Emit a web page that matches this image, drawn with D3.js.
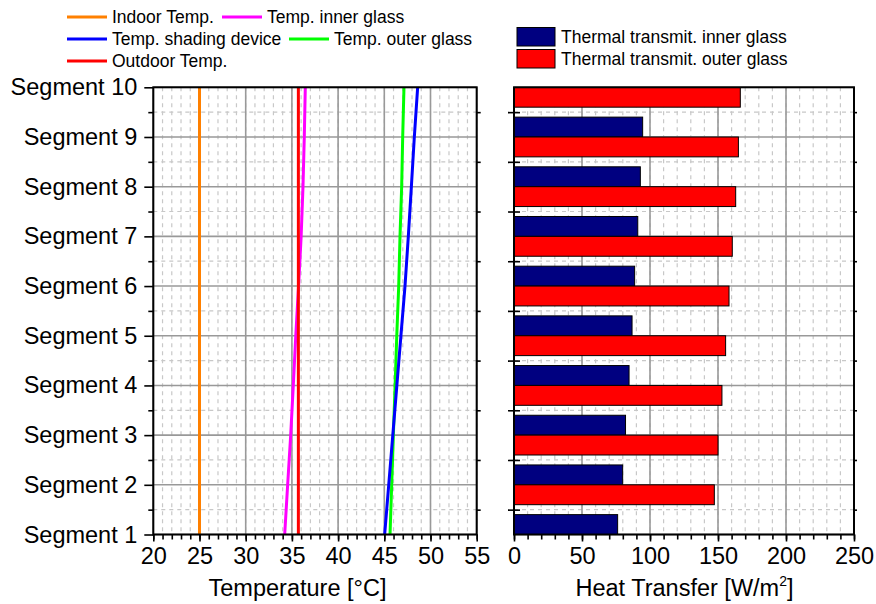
<!DOCTYPE html>
<html>
<head>
<meta charset="utf-8">
<script src="https://cdn.jsdelivr.net/npm/d3@7"></script>
<style>
body{margin:0;background:#fff}
svg{display:block;font-family:"Liberation Sans",Arial,sans-serif}
</style>
</head>
<body>
<script>
// data, segment 1 .. 10
const segments = [1,2,3,4,5,6,7,8,9,10];
const indoorTemp = [25,25,25,25,25,25,25,25,25,25];
const innerGlassTemp = [34.22,34.54,34.87,35.15,35.42,35.72,36.0,36.2,36.34,36.45];
const shadingTemp = [45.04,45.48,45.92,46.36,46.8,47.24,47.6,47.93,48.25,48.61];
const outerGlassTemp = [45.62,45.8,45.98,46.17,46.35,46.56,46.7,46.88,46.99,47.13];
const outdoorTemp = [35.7,35.7,35.7,35.7,35.7,35.7,35.7,35.7,35.7,35.7];
const transInner = [76.2,79.9,82.0,84.6,86.8,88.7,91.0,92.9,94.6,96.2];
const transOuter = [144.3,147.3,150.0,152.9,155.6,158.1,160.5,163.0,165.0,166.4];
const tempTicks = [20,25,30,35,40,45,50,55];
const heatTicks = [0,50,100,150,200,250];

const width = 876, height = 604;
const plotTop = 87.3, plotBottom = 534.5;
const svg = d3.select("body").append("svg").attr("width",width).attr("height",height);

const y = d3.scaleLinear().domain([1,10]).range([plotBottom,plotTop]);
const xT = d3.scaleLinear().domain([20,55]).range([153.3,476.7]);
const xH = d3.scaleLinear().domain([0,250]).range([514,854]);

const halves = d3.range(1.5,10,1);

function grid(x, minorX, majorX){
  const g = svg.append("g");
  const [x0,x1] = x.range();
  g.selectAll(".vmin").data(minorX).enter().append("line")
    .attr("x1",d=>x(d)).attr("x2",d=>x(d)).attr("y1",plotTop).attr("y2",plotBottom)
    .attr("stroke","#c8c8c8").attr("stroke-width",1.2).attr("stroke-dasharray","4,4");
  g.selectAll(".hmin").data(halves).enter().append("line")
    .attr("x1",x0).attr("x2",x1).attr("y1",d=>y(d)).attr("y2",d=>y(d))
    .attr("stroke","#c8c8c8").attr("stroke-width",1.2).attr("stroke-dasharray","4,4");
  g.selectAll(".vmaj").data(majorX).enter().append("line")
    .attr("x1",d=>x(d)).attr("x2",d=>x(d)).attr("y1",plotTop).attr("y2",plotBottom)
    .attr("stroke","#999").attr("stroke-width",1.6);
  g.selectAll(".hmaj").data(segments).enter().append("line")
    .attr("x1",x0).attr("x2",x1).attr("y1",d=>y(d)).attr("y2",d=>y(d))
    .attr("stroke","#999").attr("stroke-width",1.6);
}

grid(xT, d3.range(20,56,1), tempTicks);
grid(xH, d3.range(0,251,10), heatTicks);

// temperature lines
const lineGen = d3.line().x(d=>xT(d[1])).y(d=>y(d[0]));
const series = [
  {vals:indoorTemp, color:"#ff8000"},
  {vals:innerGlassTemp, color:"#ff00ff"},
  {vals:outerGlassTemp, color:"#00ff00"},
  {vals:shadingTemp, color:"#0000ff"},
  {vals:outdoorTemp, color:"#ff0000"}
];
svg.append("g").selectAll("path").data(series).enter().append("path")
  .attr("d",s=>lineGen(segments.map((seg,i)=>[seg,s.vals[i]])))
  .attr("fill","none").attr("stroke",s=>s.color).attr("stroke-width",3);

// bars
svg.append("clipPath").attr("id","clipR").append("rect")
  .attr("x",xH(0)).attr("y",plotTop).attr("width",xH(250)-xH(0)).attr("height",plotBottom-plotTop);
const bars = svg.append("g").attr("clip-path","url(#clipR)");
const bh = y(1) - y(1.4);
bars.selectAll(".bi").data(segments).enter().append("rect")
  .attr("x",xH(0)).attr("y",d=>y(d)-bh)
  .attr("width",(d,i)=>xH(transInner[i])-xH(0)).attr("height",bh)
  .attr("fill","#000080").attr("stroke","#000").attr("stroke-width",1);
bars.selectAll(".bo").data(segments).enter().append("rect")
  .attr("x",xH(0)).attr("y",d=>y(d))
  .attr("width",(d,i)=>xH(transOuter[i])-xH(0)).attr("height",bh)
  .attr("fill","#ff0000").attr("stroke","#000").attr("stroke-width",1);

// frames
[xT,xH].forEach(x=>{
  svg.append("rect").attr("x",x.range()[0]).attr("y",plotTop)
    .attr("width",x.range()[1]-x.range()[0]).attr("height",plotBottom-plotTop)
    .attr("fill","none").attr("stroke","#000").attr("stroke-width",2);
});

function styleAxis(g, size){
  g.select(".domain").remove();
  g.selectAll("line").attr("stroke","#000").attr("stroke-width",1.6);
  g.selectAll("text").attr("font-size",size).attr("fill","#000")
    .attr("font-family","'Liberation Sans',Arial,sans-serif");
}

// left plot axes
svg.append("g").attr("transform",`translate(${xT(20)},0)`)
  .call(d3.axisLeft(y).tickValues(segments).tickFormat(d=>"Segment "+d).tickSize(9).tickPadding(7))
  .call(g=>styleAxis(g,23.5));
svg.append("g").attr("transform",`translate(${xT(20)},0)`)
  .call(d3.axisLeft(y).tickValues(halves).tickFormat("").tickSize(5))
  .call(g=>styleAxis(g,23));
svg.append("g").attr("transform",`translate(${xT(55)},0)`)
  .call(d3.axisRight(y).tickValues(halves).tickFormat("").tickSize(4))
  .call(g=>styleAxis(g,23));
svg.append("g").attr("transform",`translate(0,${plotBottom})`)
  .call(d3.axisBottom(xT).tickValues(d3.range(20,56,1)).tickFormat("").tickSize(5))
  .call(g=>styleAxis(g,23));
svg.append("g").attr("transform",`translate(0,${plotBottom})`)
  .call(d3.axisBottom(xT).tickValues(tempTicks).tickSize(7).tickPadding(6))
  .call(g=>styleAxis(g,23.5));

// right plot axes
svg.append("g").attr("transform",`translate(${xH(0)},0)`)
  .call(d3.axisLeft(y).tickValues(halves).tickFormat("").tickSizeInner(6).tickSizeOuter(0))
  .call(g=>styleAxis(g,23))
  .call(g=>g.selectAll(".tick line").attr("x1",6));
svg.append("g").attr("transform",`translate(${xH(250)},0)`)
  .call(d3.axisRight(y).tickValues(halves).tickFormat("").tickSize(3))
  .call(g=>styleAxis(g,23));
svg.append("g").attr("transform",`translate(0,${plotBottom})`)
  .call(d3.axisBottom(xH).tickValues(d3.range(0,251,10)).tickFormat("").tickSize(5))
  .call(g=>styleAxis(g,23));
svg.append("g").attr("transform",`translate(0,${plotBottom})`)
  .call(d3.axisBottom(xH).tickValues(heatTicks).tickSize(7).tickPadding(6))
  .call(g=>styleAxis(g,23.5));

// axis titles
svg.append("text").attr("x",297.5).attr("y",596).attr("text-anchor","middle")
  .attr("font-size",23.5).text("Temperature [°C]");
const ht = svg.append("text").attr("x",684.5).attr("y",596).attr("text-anchor","middle")
  .attr("font-size",23.5);
ht.append("tspan").text("Heat Transfer [W/m");
ht.append("tspan").attr("font-size",14).attr("dy",-10).text("2");
ht.append("tspan").attr("dy",10).text("]");

// legends
const tempLegend = [
  {name:"Indoor Temp.", color:"#ff8000", x:67, y:17},
  {name:"Temp. inner glass", color:"#ff00ff", x:222, y:17},
  {name:"Temp. shading device", color:"#0000ff", x:67, y:39},
  {name:"Temp. outer glass", color:"#00ff00", x:289, y:39},
  {name:"Outdoor Temp.", color:"#ff0000", x:67, y:61}
];
const lg = svg.append("g").selectAll("g").data(tempLegend).enter().append("g")
  .attr("transform",d=>`translate(${d.x},${d.y})`);
lg.append("line").attr("x1",0).attr("x2",40).attr("stroke",d=>d.color).attr("stroke-width",3);
lg.append("text").attr("x",45).attr("dy","0.35em").attr("font-size",17.5).text(d=>d.name);

const barLegend = [
  {name:"Thermal transmit. inner glass", color:"#000080", y:27.5},
  {name:"Thermal transmit. outer glass", color:"#ff0000", y:49.5}
];
const bl = svg.append("g").selectAll("g").data(barLegend).enter().append("g")
  .attr("transform",d=>`translate(517,${d.y})`);
bl.append("rect").attr("width",38).attr("height",18.5).attr("fill",d=>d.color)
  .attr("stroke","#000").attr("stroke-width",1);
bl.append("text").attr("x",44).attr("y",9.5).attr("dy","0.35em").attr("font-size",17.5).text(d=>d.name);
</script>
</body>
</html>
